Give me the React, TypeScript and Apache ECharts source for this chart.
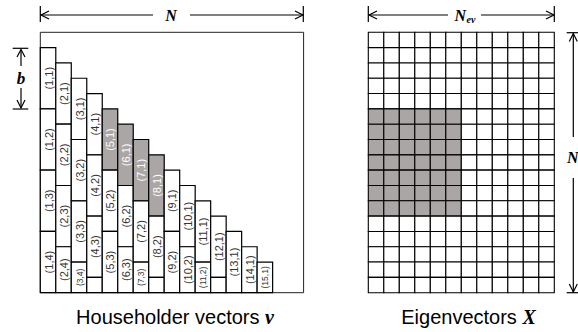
import React, { useEffect, useRef } from "react";
import * as echarts from "echarts";

// Householder blocks: [column, top row, bottom row, label]
const householderBlocks: [number, number, number, string][] = [
  [1, 1, 5, "(1,1)"], [1, 5, 9, "(1,2)"], [1, 9, 13, "(1,3)"], [1, 13, 17, "(1,4)"],
  [2, 2, 6, "(2,1)"], [2, 6, 10, "(2,2)"], [2, 10, 14, "(2,3)"], [2, 14, 17, "(2,4)"],
  [3, 3, 7, "(3,1)"], [3, 7, 11, "(3,2)"], [3, 11, 15, "(3,3)"], [3, 15, 17, "(3,4)"],
  [4, 4, 8, "(4,1)"], [4, 8, 12, "(4,2)"], [4, 12, 16, "(4,3)"], [4, 16, 17, ""],
  [5, 5, 9, "(5,1)"], [5, 9, 13, "(5,2)"], [5, 13, 17, "(5,3)"],
  [6, 6, 10, "(6,1)"], [6, 10, 14, "(6,2)"], [6, 14, 17, "(6,3)"],
  [7, 7, 11, "(7,1)"], [7, 11, 15, "(7,2)"], [7, 15, 17, "(7,3)"],
  [8, 8, 12, "(8,1)"], [8, 12, 16, "(8,2)"], [8, 16, 17, ""],
  [9, 9, 13, "(9,1)"], [9, 13, 17, "(9,2)"],
  [10, 10, 14, "(10,1)"], [10, 14, 17, "(10,2)"],
  [11, 11, 15, "(11,1)"], [11, 15, 17, "(11,2)"],
  [12, 12, 16, "(12,1)"], [12, 16, 17, ""],
  [13, 13, 17, "(13,1)"],
  [14, 14, 17, "(14,1)"],
  [15, 15, 17, "(15,1)"],
];
const shadedBlocks = ["(5,1)", "(6,1)", "(7,1)", "(8,1)"];
const matrixSize = 17;

// Eigenvector matrix
const evCols = 12;
const evRows = 17;
const evShadedCols: [number, number] = [0, 6];
const evShadedRows: [number, number] = [5, 12];

const GRAY = "#aaa6a6";
const SERIF = "'Liberation Serif', 'Times New Roman', serif";
const SANS = "'Liberation Sans', Arial, sans-serif";

function line(x1: number, y1: number, x2: number, y2: number) {
  return { type: "line", shape: { x1, y1, x2, y2 }, style: { stroke: "#000", lineWidth: 1.2 }, silent: true };
}
function head(points: number[][]) {
  return { type: "polyline", shape: { points }, style: { stroke: "#000", lineWidth: 1.2, fill: null }, silent: true };
}
function label(text: string, x: number, y: number, size: number, align = "center") {
  return {
    type: "text", x, y, silent: true,
    style: { text, fontFamily: SERIF, fontStyle: "italic", fontWeight: "bold", fontSize: size, fill: "#000", align, verticalAlign: "middle" },
  };
}

export default function App() {
  const ref = useRef<HTMLDivElement>(null);
  useEffect(() => {
    document.body.style.margin = "0";
    const chart = echarts.init(ref.current!, null, { renderer: "svg" });

    const evData: number[][] = [];
    for (let r = 0; r < evRows; r++) for (let c = 0; c < evCols; c++) evData.push([c, r]);

    const hiddenAxis = {
      axisLine: { show: false }, axisTick: { show: false }, axisLabel: { show: false }, splitLine: { show: false },
    };

    const ty = 15;
    const graphic: any[] = [
      // N arrow (top, left)
      line(40.3, 6, 40.3, 22), line(303.3, 6, 303.3, 22),
      line(41, ty, 153, ty), line(190, ty, 302.6, ty),
      head([[49, ty - 4], [41, ty], [49, ty + 4]]), head([[295, ty - 4], [303, ty], [295, ty + 4]]),
      label("N", 171, ty, 16),
      // N_ev arrow
      line(368.3, 6, 368.3, 22), line(554.3, 6, 554.3, 22),
      line(369, ty, 448, ty), line(481, ty, 553.6, ty),
      head([[377, ty - 4], [369, ty], [377, ty + 4]]), head([[546, ty - 4], [554, ty], [546, ty + 4]]),
      label("N", 454.5, ty, 16, "left"),
      label("ev", 466.5, ty + 4, 10, "left"),
      // b marker
      line(12.7, 48.3, 28.3, 48.3), line(12.7, 109, 28.3, 109),
      line(21, 49.5, 21, 66), line(21, 88, 21, 108),
      head([[17, 57], [21, 49.5], [25, 57]]), head([[17, 100], [21, 108], [25, 100]]),
      label("b", 21, 78, 17),
      // vertical N on right
      line(566.7, 32.7, 580, 32.7), line(566.7, 292.7, 580, 292.7),
      line(573.3, 33.5, 573.3, 137), line(573.3, 178, 573.3, 292),
      head([[569.3, 41.5], [573.3, 33.5], [577.3, 41.5]]), head([[569.3, 284], [573.3, 292], [577.3, 284]]),
      label("N", 567, 157, 16, "left"),
      // captions
      {
        type: "text", x: 175, y: 317, silent: true,
        style: {
          text: "{a|Householder vectors }{b|v}", align: "center", verticalAlign: "middle",
          rich: {
            a: { fontFamily: SANS, fontSize: 20, fill: "#000" },
            b: { fontFamily: SERIF, fontStyle: "italic", fontWeight: "bold", fontSize: 20, fill: "#000" },
          },
        },
      },
      {
        type: "text", x: 468.5, y: 317, silent: true,
        style: {
          text: "{a|Eigenvectors }{b|X}", align: "center", verticalAlign: "middle",
          rich: {
            a: { fontFamily: SANS, fontSize: 20, fill: "#000" },
            b: { fontFamily: SERIF, fontStyle: "italic", fontWeight: "bold", fontSize: 20, fill: "#000" },
          },
        },
      },
    ];

    chart.setOption({
      animation: false,
      backgroundColor: "#fff",
      grid: [
        { left: 40.3, top: 32.3, width: 263.3, height: 260.4, show: true, borderColor: "#222", borderWidth: 1, backgroundColor: "transparent" },
        { left: 368.3, top: 32.3, width: 186, height: 260.4, show: false },
      ],
      xAxis: [
        { type: "value", gridIndex: 0, min: 0, max: matrixSize, ...hiddenAxis },
        { type: "value", gridIndex: 1, min: 0, max: evCols, ...hiddenAxis },
      ],
      yAxis: [
        { type: "value", gridIndex: 0, min: 0, max: matrixSize, inverse: true, ...hiddenAxis },
        { type: "value", gridIndex: 1, min: 0, max: evRows, inverse: true, ...hiddenAxis },
      ],
      graphic,
      series: [
        {
          type: "custom",
          xAxisIndex: 0, yAxisIndex: 0,
          data: householderBlocks.map((b) => [b[0], b[1], b[2]]),
          renderItem: (params: any, api: any) => {
            const col = api.value(0), top = api.value(1), bottom = api.value(2);
            const lab = householderBlocks[params.dataIndex][3];
            const p1 = api.coord([col - 1, top]);
            const p2 = api.coord([col, bottom]);
            const shaded = shadedBlocks.includes(lab);
            const small = bottom - top <= 2;
            const children: any[] = [
              {
                type: "rect",
                shape: { x: p1[0], y: p1[1], width: p2[0] - p1[0], height: p2[1] - p1[1] },
                style: { fill: shaded ? GRAY : "#fff", stroke: "#000", lineWidth: 1.2 },
              },
            ];
            if (lab) {
              children.push({
                type: "text",
                x: (p1[0] + p2[0]) / 2 + 0.5,
                y: (p1[1] + p2[1]) / 2,
                rotation: Math.PI / 2,
                style: {
                  text: lab, fontFamily: SANS, fontSize: small ? 8.5 : 11,
                  fill: shaded ? "#fff" : "#333", align: "center", verticalAlign: "middle",
                },
              });
            }
            return { type: "group", children };
          },
        },
        {
          type: "custom",
          xAxisIndex: 1, yAxisIndex: 1,
          data: evData,
          renderItem: (params: any, api: any) => {
            const c = api.value(0), r = api.value(1);
            const p1 = api.coord([c, r]);
            const p2 = api.coord([c + 1, r + 1]);
            const shaded = c >= evShadedCols[0] && c < evShadedCols[1] && r >= evShadedRows[0] && r < evShadedRows[1];
            return {
              type: "rect",
              shape: { x: p1[0], y: p1[1], width: p2[0] - p1[0], height: p2[1] - p1[1] },
              style: { fill: shaded ? GRAY : "#fff", stroke: "#000", lineWidth: 1.1 },
            };
          },
        },
      ],
    });
    return () => chart.dispose();
  }, []);
  return <div ref={ref} style={{ width: 578, height: 332 }} />;
}
